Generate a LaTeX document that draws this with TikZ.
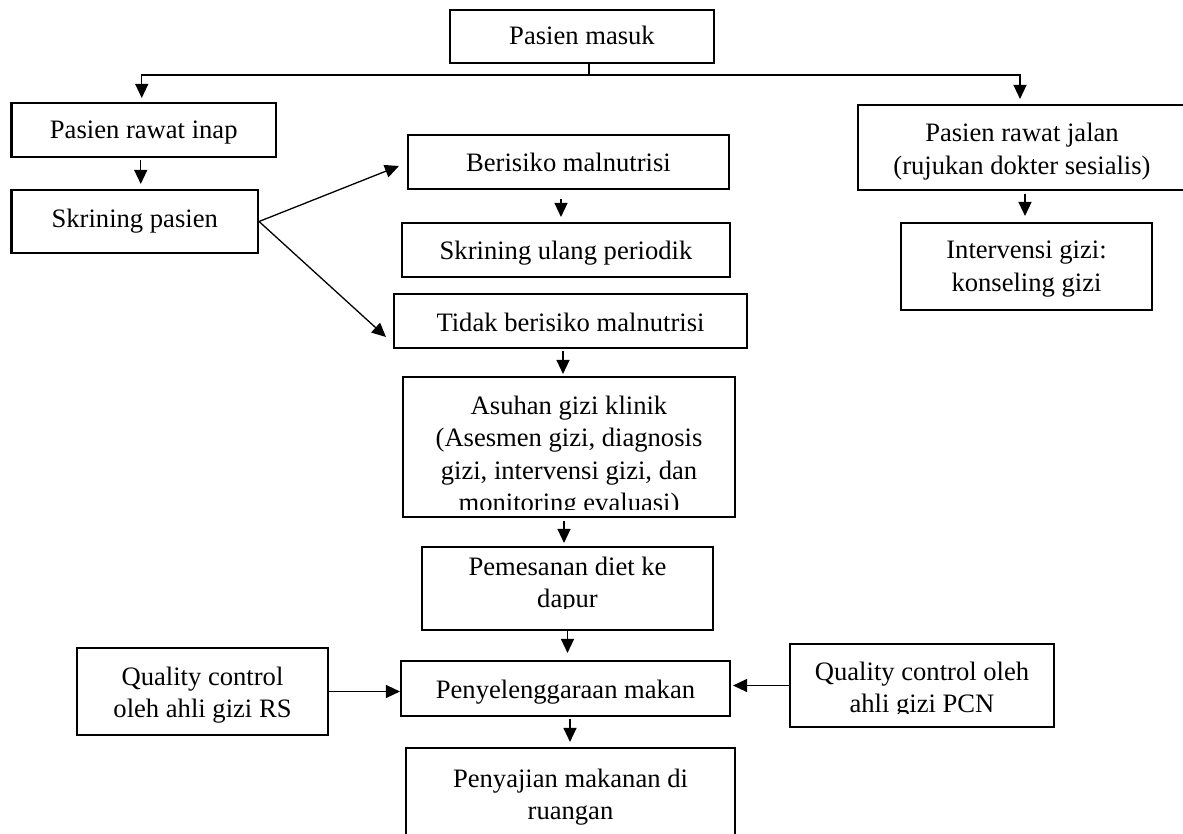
\documentclass[tikz,border=0pt]{standalone}
\usepackage{fontspec}
\setmainfont{Liberation Serif}
\usetikzlibrary{arrows.meta,fit}

\tikzset{
  box/.style={draw, line width=1.05pt, inner sep=0pt, rectangle},
  txt/.style={anchor=base, inner sep=0pt, font=\fontsize{13.3pt}{16.25pt}\selectfont},
  conn/.style={line width=0.65pt},
  arr/.style={conn, -{Triangle[length=7pt,width=6.5pt]}},
}
\newcommand{\lines}[1]{\begin{tabular}[t]{@{}c@{}}#1\end{tabular}}

\begin{document}
\begin{tikzpicture}[x=0.5pt, y=-0.5pt]
\useasboundingbox (0,0) rectangle (1183,834);
\clip (0,0) rectangle (1183,834);

% boxes
\node[box, fit={(450,10) (714,63)}] (masuk) {};
\node[box, fit={(11.5,103) (276,157)}] (inap) {};
\node[box, fit={(11.5,190) (258,253)}] (skrining) {};
\node[box, fit={(408,135) (729,189)}] (berisiko) {};
\node[box, fit={(402,223) (730,277)}] (ulang) {};
\node[box, fit={(394,294) (747,348)}] (tidak) {};
\node[box, fit={(403,377) (735,517)}] (asuhan) {};
\node[box, fit={(422,547) (713,630)}] (pemesanan) {};
\node[box, fit={(401,661) (730,716)}] (makan) {};
\node[box, fit={(406,748) (735,880)}] (penyajian) {};
\node[box, fit={(858,105) (1186,190)}] (jalan) {};
\node[box, fit={(901,223) (1152,310)}] (intervensi) {};
\node[box, fit={(77,648) (328,735)}] (qcrs) {};
\node[box, fit={(790,644) (1054,727)}] (qcpcn) {};

% texts
\node[txt] (masukt) at (582,45) {Pasien masuk};
\node[txt] (inapt) at (143.75,139) {Pasien rawat inap};
\node[txt] (skriningt) at (134.75,228) {Skrining pasien};
\node[txt] (berisikot) at (568.5,172) {Berisiko malnutrisi};
\node[txt] (ulangt) at (566,260) {Skrining ulang periodik};
\node[txt] (tidakt) at (570.5,331) {Tidak berisiko malnutrisi};
\begin{scope}
  \clip (403,377) rectangle (735,509);
  \node[txt] (asuhant) at (569,414) {\lines{Asuhan gizi klinik\\(Asesmen gizi, diagnosis\\gizi, intervensi gizi, dan\\monitoring evaluasi)}};
\end{scope}
\begin{scope}
  \clip (422,547) rectangle (713,608);
  \node[txt] (pemesanant) at (567.5,575) {\lines{Pemesanan diet ke\\dapur}};
\end{scope}
\node[txt] (makant) at (565.5,698) {Penyelenggaraan makan};
\node[txt] (penyajiant) at (570.5,787) {\lines{Penyajian makanan di\\ruangan}};
\node[txt] (jalant) at (1022,142) {\lines{Pasien rawat jalan\\(rujukan dokter sesialis)}};
\node[txt] (intervensit) at (1026.5,259) {\lines{Intervensi gizi:\\konseling gizi}};
\node[txt] (qcrst) at (202.5,685) {\lines{Quality control\\oleh ahli gizi RS}};
\begin{scope}
  \clip (790,644) rectangle (1054,713);
  \node[txt] (qcpcnt) at (922,680) {\lines{Quality control oleh\\ahli gizi PCN}};
\end{scope}

% connectors
\coordinate (split) at (589,75);
\draw[conn] (masuk.south -| split) -- (split);
\draw[arr] (split) -| ([xshift=-1pt,yshift=2pt]inap.north);
\draw[arr] (split) -| ([xshift=-1pt,yshift=2.5pt]jalan.north);
\draw[arr] ([xshift=-1.5pt,yshift=-1pt]inap.south) -- ([xshift=-1.5pt,yshift=2.5pt]inap.south |- skrining.north);
\draw[arr] (skrining.east) -- ([xshift=-4pt,yshift=-2pt]berisiko.west);
\draw[arr] (skrining.east) -- ([xshift=-3.5pt,yshift=-8pt]tidak.west);
\draw[arr] ([xshift=-3.75pt,yshift=-4.5pt]berisiko.south) -- ([xshift=-3.75pt,yshift=2.5pt]berisiko.south |- ulang.north);
\draw[arr] ([xshift=-3.75pt,yshift=-1pt]tidak.south) -- ([xshift=-3.75pt,yshift=1pt]tidak.south |- asuhan.north);
\draw[arr] ([xshift=-2.5pt,yshift=-1.5pt]asuhan.south) -- ([xshift=-2.5pt,yshift=1.5pt]asuhan.south |- pemesanan.north);
\draw[arr] (pemesanan.south) -- ([yshift=3.5pt]pemesanan.south |- makan.north);
\draw[arr] ([xshift=2.25pt,yshift=-1pt]makan.south) -- ([xshift=2.25pt,yshift=2.5pt]makan.south |- penyajian.north);
\draw[arr] (qcrs.east) -- (qcrs.east -| makan.west);
\draw[arr] (qcpcn.west) -- ([xshift=1pt]qcpcn.west -| makan.east);
\draw[arr] ([xshift=1.5pt,yshift=-1.5pt]jalan.south) -- ([xshift=1.5pt,yshift=3pt]jalan.south |- intervensi.north);
\end{tikzpicture}
\end{document}
